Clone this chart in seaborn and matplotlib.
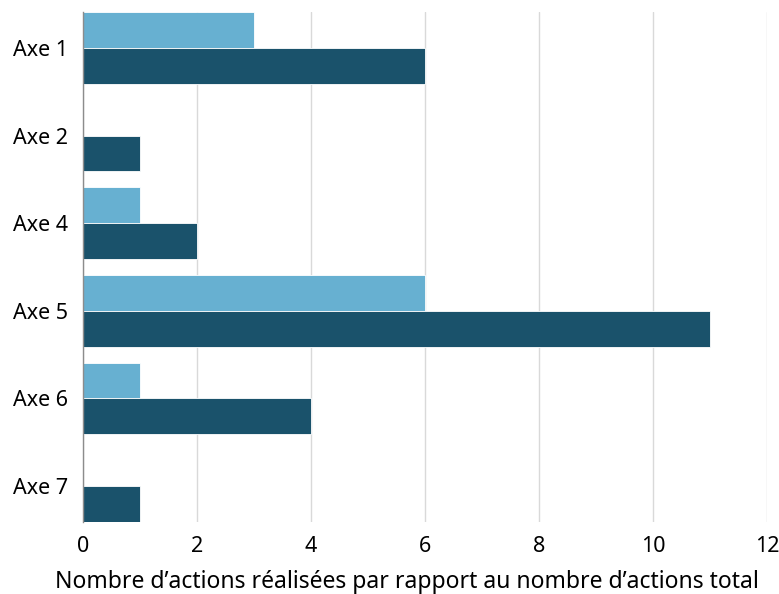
import matplotlib
matplotlib.use("Agg")
import matplotlib.pyplot as plt
import seaborn as sns
import pandas as pd

categories = ["Axe 1", "Axe 2", "Axe 4", "Axe 5", "Axe 6", "Axe 7"]
realisees = [3, 0, 1, 6, 1, 0]
total = [6, 1, 2, 11, 4, 1]
series_names = ["Actions réalisées", "Actions total"]
x_ticks = [0, 2, 4, 6, 8, 10, 12]
x_label = "Nombre d’actions réalisées par rapport au nombre d’actions total"

df = pd.DataFrame({
    "Axe": categories * 2,
    "Série": [series_names[0]] * len(categories) + [series_names[1]] * len(categories),
    "Valeur": realisees + total,
})

sns.set_theme(style="white")
plt.rcParams["font.family"] = ["Noto Sans", "DejaVu Sans"]
plt.rcParams["text.color"] = "black"
plt.rcParams["xtick.color"] = "black"
plt.rcParams["ytick.color"] = "black"
plt.rcParams["axes.labelcolor"] = "black"

fig = plt.figure(figsize=(7.79, 5.94), dpi=100)
ax = fig.add_axes([83 / 779, 1 - 522 / 594, (767 - 83) / 779, (522 - 12) / 594])

sns.barplot(data=df, y="Axe", x="Valeur", hue="Série", order=categories,
            hue_order=series_names, palette=["#67b0d1", "#1a526b"],
            saturation=1, orient="h", width=0.82, ax=ax,
            edgecolor="white", linewidth=0.6, legend=False)

ax.set_xlim(0, 12)
ax.set_ylim(5.41, -0.41)
ax.set_xticks(x_ticks)
ax.set_xticklabels([str(t) for t in x_ticks], fontsize=15.5)
ax.tick_params(axis="y", labelsize=15.5, length=0, pad=10.5)
ax.tick_params(axis="x", length=0, pad=10)
ax.xaxis.grid(True, color="#d9d9d9", linewidth=1)
ax.set_axisbelow(True)
for s in ["top", "right", "bottom"]:
    ax.spines[s].set_visible(False)
ax.spines["left"].set_color("#8c8c8c")
ax.spines["left"].set_linewidth(1)
ax.set_ylabel("")
ax.set_xlabel(x_label, fontsize=16.5, labelpad=12)
ax.xaxis.set_label_coords((407 - 83) / 684, -0.095)

fig.savefig("out.png", dpi=100)
